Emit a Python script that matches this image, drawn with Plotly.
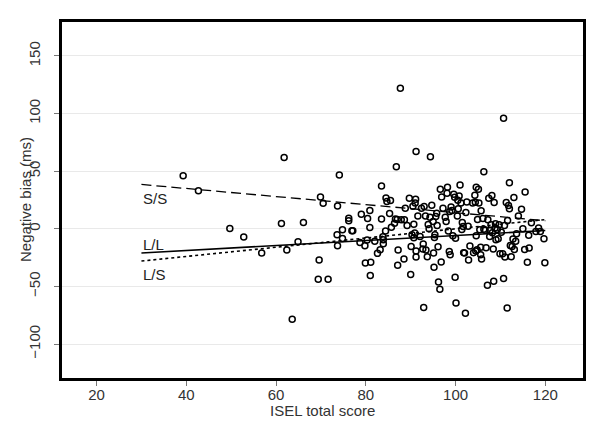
import plotly.graph_objects as go

# ISEL total score vs negative bias (ms)
isel = [87.7, 110.7, 91.2, 94.4, 61.8, 86.8, 106.3, 39.3, 74.1, 42.7,
        115.5, 112.0, 69.9, 70.5, 73.7, 80.9, 76.2, 76.2, 49.7, 52.8,
        61.2, 66.1, 64.9, 62.4, 56.8, 69.6, 69.4, 71.6, 63.6, 73.6,
        74.8, 74.8, 73.7, 76.9, 77.1, 79.0, 80.4, 78.7, 79.8, 80.3,
        80.9, 79.9, 81.1, 81.0, 82.0, 82.6, 83.2, 83.5, 83.5, 83.9,
        83.8, 83.9, 84.4, 84.5, 84.7, 85.5, 85.3, 85.7, 86.4, 86.6,
        87.0, 87.2, 87.1, 87.9, 88.5, 88.8, 88.6, 89.2, 89.7, 90.0,
        90.1, 90.3, 90.5, 90.7, 90.9, 90.7, 91.0, 91.1, 91.2, 91.2,
        91.6, 92.1, 92.4, 92.7, 92.8, 92.9, 93.0, 93.4, 93.3, 93.7,
        93.9, 94.1, 94.3, 94.7, 95.0, 95.1, 95.2, 95.3, 95.4, 95.6,
        95.8, 95.9, 96.1, 96.2, 96.5, 96.6, 96.8, 96.9, 97.2, 97.7,
        97.9, 98.1, 98.2, 98.4, 98.6, 98.7, 98.8, 99.0, 99.2, 99.4,
        99.6, 99.8, 99.9, 100.0, 100.1, 100.4, 100.5, 100.6, 100.8, 101.0,
        101.2, 101.4, 101.5, 101.7, 101.8, 102.0, 102.2, 102.3, 102.5, 102.8,
        102.9, 103.2, 103.8, 104.0, 104.3, 104.4, 104.5, 104.6, 104.6, 104.8,
        104.9, 105.1, 105.2, 105.4, 105.6, 105.6, 105.7, 105.8, 106.1, 106.3,
        106.6, 106.8, 107.1, 107.2, 107.4, 107.6, 107.7, 107.9, 108.1, 108.2,
        108.5, 108.4, 108.6, 108.8, 108.9, 109.0, 109.3, 109.5, 109.7, 109.9,
        110.2, 110.5, 110.7, 110.9, 111.0, 111.3, 111.5, 111.6, 111.8, 112.0,
        112.2, 112.4, 112.6, 112.8, 113.0, 113.1, 113.4, 113.6, 114.0, 114.7,
        115.0, 115.4, 116.0, 116.3, 116.4, 116.9, 117.9, 118.5, 119.7, 119.9,
        118.9]
bias = [122.1, 95.9, 67.1, 62.5, 61.9, 53.9, 49.5, 46.1, 46.7, 33.1,
        32.0, 40.0, 27.6, 22.2, 19.9, 15.8, 9.2, 6.9, 0.3, -7.2,
        4.6, 5.5, -11.2, -18.4, -21.0, -27.1, -43.8, -43.8, -78.6, -5.2,
        -0.9, -8.4, -14.7, -1.7, -1.7, 12.7, 8.9, -11.8, -14.7, -9.8,
        1.2, -29.7, -29.1, -40.6, -10.9, -21.3, -18.1, 8.4, 37.2, -13.0,
        -6.9, -9.5, -2.0, 26.8, 23.6, 24.5, 13.2, 1.4, 4.9, 8.6,
        8.1, -18.4, -31.7, 7.8, -26.2, 17.9, 7.8, 2.9, 26.5, -39.7,
        -15.3, -5.2, 19.6, 4.0, -3.7, -7.8, 22.5, 25.6, -19.3, -24.5,
        11.2, -6.6, 17.9, -17.6, -13.2, -68.3, 19.3, -18.4, 11.2, -24.2,
        3.7, 0.0, 10.1, 20.4, 6.3, -21.0, -33.4, -7.5, -5.2, 10.7,
        13.5, 2.9, -15.6, -46.1, -52.4, 34.3, -28.8, 27.6, 17.9, 10.1,
        6.3, 30.8, 36.0, -2.0, -19.6, 15.0, -22.5, 19.0, 15.8, -6.0,
        30.0, 27.4, -42.0, -8.1, -64.5, 11.2, 24.8, 17.3, 28.5, 38.0,
        22.5, -0.6, 5.5, 2.0, -20.7, -21.0, -73.2, 14.1, 23.3, 2.3,
        -27.1, -15.0, 22.5, -20.7, 29.1, 23.0, -19.3, 36.0, -6.0, -18.1,
        8.1, 34.3, 22.5, -0.9, -16.1, -22.5, 15.6, -26.2, 8.9, -0.3,
        -1.2, -16.4, -49.0, 7.8, 26.5, -6.6, -1.2, 3.5, 28.8, -3.5,
        -45.5, -17.6, 22.8, 0.6, 4.3, -9.5, -0.6, -8.6, 3.5, -21.6,
        -2.9, -21.6, -43.2, 2.9, -24.5, 22.8, -68.8, 7.2, 20.2, 17.3,
        -14.4, -24.2, -15.3, -8.9, 27.1, -17.9, -10.9, -4.3, 11.2, 17.0,
        0.0, -17.9, -29.1, -5.5, -16.7, 5.2, -2.3, 0.6, -8.6, -29.4,
        -2.3]

# fitted lines per genotype
fit_x = [30, 120]
ss_y = [38.5, 7.0]
ll_y = [-21.0, -1.5]
ls_y = [-28.0, 8.0]
group_labels = ["S/S", "L/L", "L/S"]
label_y = [26, -14, -40]

fig = go.Figure()
fig.add_trace(go.Scatter(x=isel, y=bias, mode="markers",
                         marker=dict(symbol="circle-open", size=6, color="black",
                                     line=dict(width=1.5, color="black"))))
fig.add_trace(go.Scatter(x=fit_x, y=ss_y, mode="lines",
                         line=dict(color="black", width=1.3, dash="10px,5px")))
fig.add_trace(go.Scatter(x=fit_x, y=ll_y, mode="lines",
                         line=dict(color="black", width=1.6)))
fig.add_trace(go.Scatter(x=fit_x, y=ls_y, mode="lines",
                         line=dict(color="black", width=1.6, dash="dot")))

for lab, yy in zip(group_labels, label_y):
    fig.add_annotation(x=30, y=yy, text=lab, showarrow=False, xanchor="left",
                       yanchor="middle", font=dict(size=15, color="#222"))

# axis titles placed by hand
fig.add_annotation(xref="paper", yref="paper", x=0, y=0.5, xshift=-37,
                   text="Negative bias (ms)", textangle=-90, showarrow=False,
                   xanchor="center", yanchor="middle",
                   font=dict(size=15, color="#333"))
fig.add_annotation(xref="paper", yref="paper", x=0.5, y=0, yshift=-32,
                   text="ISEL total score", showarrow=False,
                   xanchor="center", yanchor="middle",
                   font=dict(size=15, color="#333"))

# page body has an 8px margin, so the figure is 8px smaller
fig.update_layout(
    width=594, height=432,
    margin=dict(l=54, r=19, t=11, b=62),
    paper_bgcolor="white", plot_bgcolor="white",
    showlegend=False,
    font=dict(family="Liberation Sans, Arial, sans-serif", size=15, color="#333"),
)
fig.update_xaxes(range=[12.3, 128.4], tickvals=[20, 40, 60, 80, 100, 120],
                 showgrid=False, zeroline=False,
                 showline=True, mirror=True, linecolor="black", linewidth=3,
                 ticks="outside", ticklen=5, tickcolor="#777", tickwidth=1,
                 ticklabelstandoff=-4)
fig.update_yaxes(range=[-129.5, 179.5], tickvals=[-100, -50, 0, 50, 100, 150],
                 tickangle=-90, showgrid=True, gridcolor="#e9e9e9", gridwidth=1,
                 zeroline=False,
                 showline=True, mirror=True, linecolor="black", linewidth=3,
                 ticks="outside", ticklen=5, tickcolor="#777", tickwidth=1,
                 ticklabelstandoff=8)

fig.write_html("out.html")
